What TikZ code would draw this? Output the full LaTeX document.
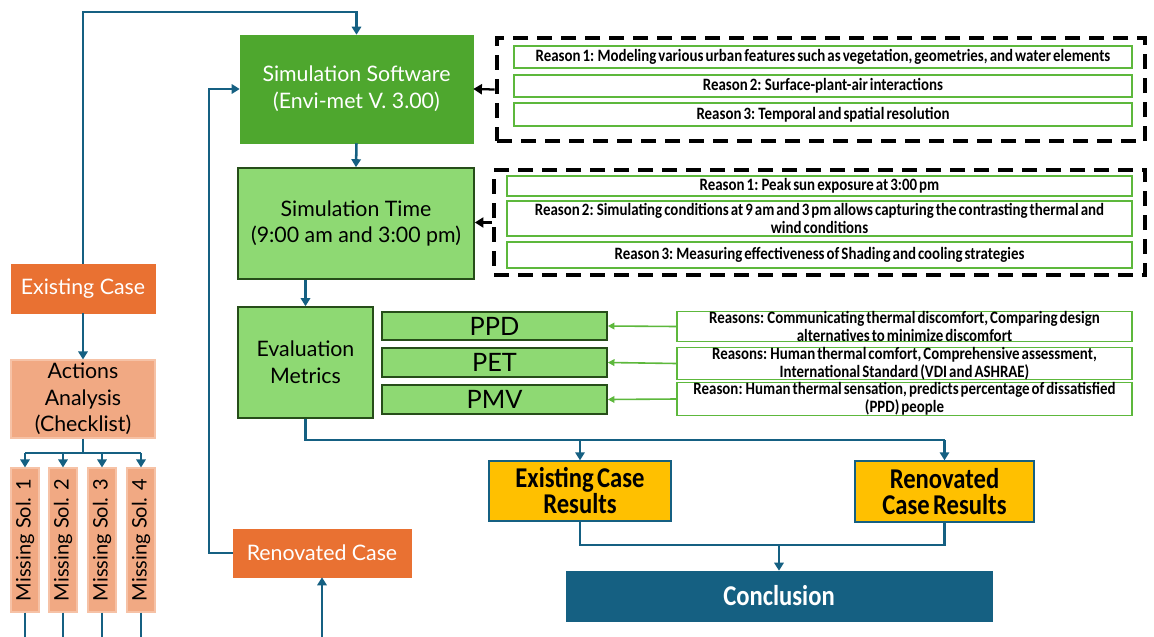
\documentclass[tikz,border=0pt]{standalone}
\usepackage{fontspec}
\setmainfont{Lato}
\newfontfamily\condfont[FakeStretch=0.86,WordSpace=0.6]{Carlito}
\usetikzlibrary{arrows.meta}

\definecolor{flowblue}{HTML}{156082}
\definecolor{softgreen}{HTML}{4EA72E}
\definecolor{lightgreen}{HTML}{8ED973}
\definecolor{greenedge}{HTML}{264D19}
\definecolor{reasonedge}{HTML}{5DB83C}
\definecolor{caseorange}{HTML}{E97132}
\definecolor{lightorange}{HTML}{F1A983}
\definecolor{paleorange}{HTML}{F6C2A6}
\definecolor{gold}{HTML}{FFC000}

\tikzset{
  % a box given by its corners x1/y1/x2/y2 in pixel units
  span/.style args={#1/#2/#3/#4}{
    minimum width={(#3-#1)*0.75pt}, minimum height={(#4-#2)*0.75pt},
    at={({(#1+#3)/2},{(#2+#4)/2})}},
  flowtip/.tip={Triangle[length=6pt,width=7pt]},
  link/.style={draw=flowblue, line width=1.9pt},
  flow/.style={link, -flowtip},
  reasonarrow/.style={draw=black, line width=1.7pt, -{Triangle[length=6.5pt,width=7.5pt]}},
  metricarrow/.style={draw=reasonedge, line width=1.2pt, -{Triangle[length=5pt,width=5pt]}},
  basebox/.style={rectangle, inner sep=0pt, align=center},
  softwarebox/.style={basebox, fill=softgreen, draw=softgreen, text=white,
    font=\fontsize{16}{20}\selectfont},
  greenbox/.style={basebox, fill=lightgreen, draw=greenedge, line width=1.2pt,
    font=\fontsize{16}{20}\selectfont},
  metricbox/.style={greenbox, font=\fontsize{19}{20}\selectfont},
  reasonbox/.style={basebox, fill=white, draw=reasonedge, line width=0.8pt,
    font=\condfont\bfseries\fontsize{13}{13.5}\selectfont},
  dashbox/.style={rectangle, inner sep=0pt, draw=black, line width=3.5pt,
    dash pattern=on 11pt off 7pt},
  casebox/.style={basebox, fill=caseorange, draw=caseorange, text=white,
    font=\fontsize{16}{20}\selectfont},
  actionbox/.style={basebox, fill=lightorange, draw=paleorange, line width=0.8pt,
    font=\fontsize{16}{20}\selectfont},
  solbox/.style={actionbox, rotate=90, minimum width=108pt, minimum height=21pt,
    font=\fontsize{15}{18}\selectfont},
  resultbox/.style={basebox, fill=gold, draw=flowblue, line width=1pt,
    font=\condfont\bfseries\fontsize{21.5}{19.5}\selectfont},
  conclusionbox/.style={basebox, fill=flowblue, draw=flowblue, text=white,
    font=\condfont\bfseries\fontsize{21.5}{22}\selectfont},
}

\begin{document}
\begin{tikzpicture}[x=0.75pt, y=-0.75pt]
\useasboundingbox (0,0) rectangle (1154,636);
\clip (0,0) rectangle (1154,636);
\fill[white] (0,0) rectangle (1154,636);

% main simulation column
\node[softwarebox, span=240/35/473/143] (sw) {Simulation Software\\(Envi-met V. 3.00)};
\node[greenbox, span=238/168/474/279] (st) {Simulation Time\\(9:00 am and 3:00 pm)};
\node[greenbox, span=238/307/373/418] (em) {Evaluation\\Metrics};

% metrics
\node[metricbox, span=382/312/607/340] (ppd) {PPD};
\node[metricbox, span=382/348/607/377] (pet) {PET};
\node[metricbox, span=382/385/607/414] (pmv) {PMV};

\node[reasonbox, span=677/312/1132/341] (rppd) {Reasons: Communicating thermal discomfort, Comparing design\\alternatives to minimize discomfort};
\node[reasonbox, span=677/349/1132/378] (rpet) {Reasons: Human thermal comfort, Comprehensive assessment,\\International Standard (VDI and ASHRAE)};
\node[reasonbox, span=677/385/1132/413] (rpmv) {Reason: Human thermal sensation, predicts percentage of dissatisfied\\(PPD) people};

% reasons for the software
\node[dashbox, span=497/38/1145/141] (d1) {};
\node[reasonbox, span=514/46/1132/68] (s1) {Reason 1: Modeling various urban features such as vegetation, geometries, and water elements};
\node[reasonbox, span=514/75/1132/97] (s2) {Reason 2: Surface-plant-air interactions};
\node[reasonbox, span=514/103/1132/126] (s3) {Reason 3: Temporal and spatial resolution};

% reasons for the simulation time
\node[dashbox, span=494/170/1145/275] (d2) {};
\node[reasonbox, span=507/176/1132/196] (t1) {Reason 1: Peak sun exposure at 3:00 pm};
\node[reasonbox, span=507/201/1132/236] (t2) {Reason 2: Simulating conditions at 9 am and 3 pm allows capturing the contrasting thermal and\\wind conditions};
\node[reasonbox, span=507/242/1132/268] (t3) {Reason 3: Measuring effectiveness of Shading and cooling strategies};

% results
\node[resultbox, span=489/461/671/521] (ecr) {Existing Case\\Results};
\node[resultbox, span=855/461/1034/522] (rcr) {Renovated\\Case Results};
\node[conclusionbox, span=566/571/992/621] (conc) {Conclusion};

% case column
\node[casebox, span=11/264/155/313] (ec) {Existing Case};
\node[actionbox, span=11/360/155/438] (aa) {Actions\\Analysis\\(Checklist)};
\node[solbox] (ms1) at (25,540) {Missing Sol. 1};
\node[solbox] (ms2) at (63,540) {Missing Sol. 2};
\node[solbox] (ms3) at (102,540) {Missing Sol. 3};
\node[solbox] (ms4) at (141,540) {Missing Sol. 4};
\node[casebox, span=233/529/411/577] (rc) {Renovated Case};

% helper coordinates for the routing
\coordinate (toprail) at (0,12);
\coordinate (leftrail) at (209,0);
\coordinate (metricrail) at (0,440);
\coordinate (resultrail) at (0,545);
\coordinate (solrail) at (0,453);
\coordinate (baserail) at (0,660);

% connectors
\draw[flow] (ec.north) -- (ec.north |- toprail) -| (sw.north);
\draw[flow] (sw.south) -- (st.north);
\draw[flow] (em.north |- st.south) -- (em.north);
\draw[link] (em.south) -- (em.south |- metricrail) -- (rcr.north |- metricrail);
\draw[flow] (ecr.north |- metricrail) -- (ecr.north);
\draw[flow] (rcr.north |- metricrail) -- (rcr.north);
\draw[link] (ecr.south) -- (ecr.south |- resultrail) -- (rcr.south |- resultrail) -- (rcr.south);
\draw[flow] (conc.north |- resultrail) -- (conc.north);

\draw[flow] (ec.south) -- (aa.north);
\draw[link] (aa.south) -- (aa.south |- solrail);
\draw[link] (ms1.east |- solrail) -- (ms4.east |- solrail);
\foreach \m in {ms1,ms2,ms3,ms4}{
  \draw[flow] (\m.east |- solrail) -- (\m.east);
  \draw[link] (\m.west) -- (\m.west |- baserail);
}
\draw[link] (ms1.west |- baserail) -- (rc.south |- baserail);
\draw[flow] (rc.south |- baserail) -- (rc.south);
\draw[flow] (rc.west) -- (rc.west -| leftrail) |- (sw.west);

\draw[reasonarrow] (d1.west) -- (sw.east);
\draw[reasonarrow] (d2.west) -- (st.east |- d2.west);

\draw[metricarrow] (rppd.west) -- (ppd.east);
\draw[metricarrow] (rpet.west) -- (pet.east);
\draw[metricarrow] (rpmv.west) -- (pmv.east);
\end{tikzpicture}
\end{document}
